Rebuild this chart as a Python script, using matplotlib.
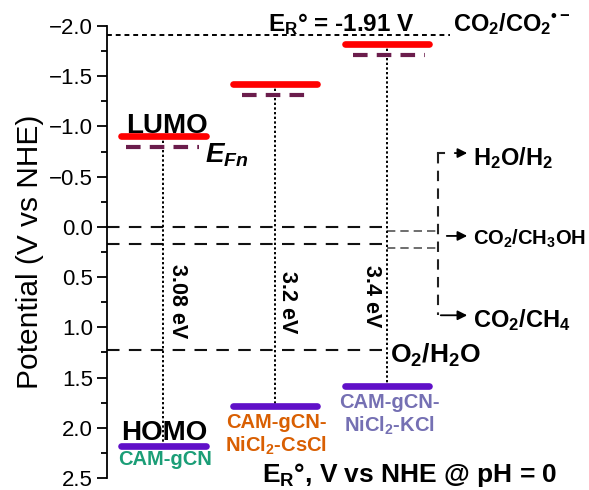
import matplotlib
matplotlib.use("Agg")
import matplotlib.pyplot as plt
from matplotlib.ticker import MultipleLocator

plt.rcParams['font.family'] = ['Liberation Sans', 'DejaVu Sans']
plt.rcParams['mathtext.fontset'] = 'custom'
plt.rcParams['mathtext.rm'] = 'Liberation Sans:bold'
plt.rcParams['mathtext.bf'] = 'Liberation Sans:bold'
plt.rcParams['mathtext.it'] = 'Liberation Sans:italic:bold'
plt.rcParams['mathtext.sf'] = 'Liberation Sans:bold'

# ---------------- data ----------------
materials = ['CAM-gCN', 'CAM-gCN-\nNiCl$_2$-CsCl', 'CAM-gCN-\nNiCl$_2$-KCl']
lumo = [-0.90, -1.42, -1.82]          # V vs NHE
efn = [-0.80, -1.31, -1.71]           # quasi-Fermi level
homo = [2.18, 1.78, 1.58]
gap_labels = ['3.08 eV', '3.2 eV', '3.4 eV']
e_co2_rad = -1.91                     # CO2/CO2.- potential
redox_levels = [0.0, 0.17, 1.23]      # CO2/CH3OH, CO2/CH4, O2/H2O guide lines
yticks = [-2.0, -1.5, -1.0, -0.5, 0.0, 0.5, 1.0, 1.5, 2.0, 2.5]

# ---------------- layout (pixel-like x units) ----------------
bar_left = [121, 233, 345]
bar_right = [206, 317, 429]
efn_left = [126, 242, 353]
efn_right = [199, 313, 425]
x_center = [163, 275, 387]
mat_colors = ['#1b9e77', '#d95f02', '#7570b3']

fig = plt.figure(figsize=(5.89, 4.90), dpi=100)
ax = fig.add_axes([107/589, 12/490, 482/589, 452/490])
ax.set_xlim(107, 589)
ax.set_ylim(2.5, -2.0)

for s in ['top', 'right', 'bottom']:
    ax.spines[s].set_visible(False)
ax.spines['left'].set_linewidth(1.3)
ax.set_xticks([])
ax.set_yticks(yticks)
ax.set_yticklabels([f"{v:.1f}".replace('-', '\u2212') for v in yticks])
ax.yaxis.set_minor_locator(MultipleLocator(0.25))
ax.tick_params(axis='y', which='major', direction='out', length=7, width=1.3, labelsize=16, pad=3)
ax.tick_params(axis='y', which='minor', direction='out', length=4, width=1.3)
ax.set_ylabel('Potential (V vs NHE)', fontsize=21.5, labelpad=4)

# CO2/CO2.- level
ax.plot([107, 450], [e_co2_rad, e_co2_rad], color='black', lw=1.4,
        dashes=(2.5, 2), clip_on=False, zorder=2)

# redox guide lines
for lvl in redox_levels:
    ax.plot([107, 382], [lvl, lvl], color='#111111', lw=1.5, dashes=(6, 4.5), zorder=1)
for lvl in redox_levels[:2]:
    ax.plot([387, 437], [lvl + 0.04, lvl + 0.04], color='#555555',
            lw=1.2, dashes=(5, 3), zorder=1)

# band levels
for i in range(3):
    ax.plot([x_center[i], x_center[i]], [lumo[i], homo[i]], color='black', lw=1.4,
            dashes=(1.2, 1.2), zorder=2)
    ax.plot([bar_left[i], bar_right[i]], [lumo[i], lumo[i]], color='#ff0000', lw=4.8,
            solid_capstyle='round', zorder=3)
    ax.plot([efn_left[i], efn_right[i]], [efn[i], efn[i]], color='#6b1d4c', lw=3,
            dashes=(3.5, 2.2), zorder=3)
    ax.plot([bar_left[i], bar_right[i]], [homo[i], homo[i]], color='#6010c8', lw=4.8,
            solid_capstyle='round', zorder=3)

# band gap labels
gap_x = [177, 287, 371]
gap_y = [0.74, 0.75, 0.69]
for i in range(3):
    ax.text(gap_x[i], gap_y[i], gap_labels[i], rotation=-90, ha='center', va='center',
            fontsize=15.5, fontweight='bold')

# material labels
ax.text(118, 2.32, materials[0], color=mat_colors[0], fontsize=14.5, fontweight='bold',
        ha='left', va='center')
ax.text(276, 2.07, materials[1], color=mat_colors[1], fontsize=14.5, fontweight='bold',
        ha='center', va='center', linespacing=1.15)
ax.text(389, 1.875, materials[2], color=mat_colors[2], fontsize=14.5, fontweight='bold',
        ha='center', va='center', linespacing=1.15)

# LUMO / HOMO / EFn
ax.text(126, -0.935, 'LUMO', fontsize=20, fontweight='bold', ha='left', va='baseline')
ax.text(121, 2.12, 'HOMO', fontsize=20, fontweight='bold', ha='left', va='baseline')
ax.text(205, -0.645, r'$\mathit{E}_{\mathit{Fn}}$', fontsize=20, ha='left', va='baseline')

# CO2 radical level text
ax.text(268, -1.95, r'E$_\mathrm{R}$° = -1.91 V', fontsize=17.5, fontweight='bold',
        ha='left', va='baseline', clip_on=False)
ax.text(453, -1.95, r'CO$_2$/CO$_2$$^{\mathrm{•-}}$', fontsize=17, fontweight='bold',
        ha='left', va='baseline', clip_on=False)

# O2/H2O
ax.text(390, 1.35, r'O$_2$/H$_2$O', fontsize=19, fontweight='bold', ha='left', va='baseline')

# right-hand bracket and arrows
y_top, y_mid, y_bot = -0.735, 0.09, 0.88
ax.plot([438, 438], [y_top, y_bot], color='#222222', lw=1.5, dashes=(5, 3.5), zorder=1)
ax.plot([438, 444], [y_top, y_top], color='#222222', lw=1.5, zorder=1)
arrow = dict(arrowstyle='-|>', color='black', lw=1.3, mutation_scale=14)
ax.annotate('', xy=(470, y_top), xytext=(452, y_top), arrowprops=arrow)
ax.annotate('', xy=(470, y_mid), xytext=(444, y_mid), arrowprops=arrow)
ax.annotate('', xy=(470, y_bot), xytext=(438, y_bot), arrowprops=arrow)
ax.text(473, -0.615, r'H$_2$O/H$_2$', fontsize=17, fontweight='bold', ha='left', va='baseline')
ax.text(473, 0.18, r'CO$_2$/CH$_3$OH', fontsize=14.5, fontweight='bold', ha='left', va='baseline')
ax.text(473, 1.0, r'CO$_2$/CH$_4$', fontsize=17, fontweight='bold', ha='left', va='baseline')

# footer
ax.text(262, 2.54, r'E$_\mathrm{R}$°, V vs NHE @ pH = 0', fontsize=19, fontweight='bold',
        ha='left', va='baseline', clip_on=False)

fig.savefig('out.png', dpi=100)
